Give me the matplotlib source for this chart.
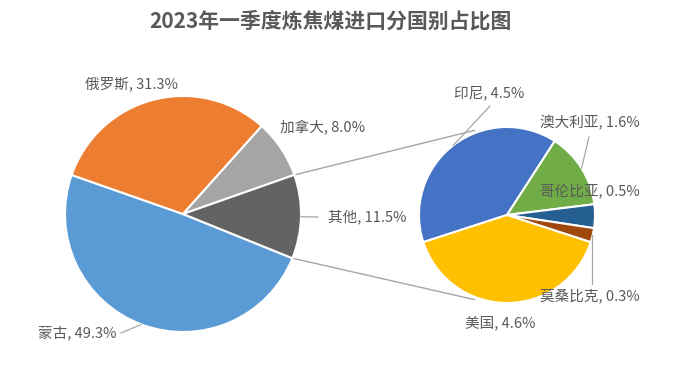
import numpy as np
import matplotlib
matplotlib.use("Agg")
from matplotlib import pyplot as plt

plt.rcParams['font.family'] = ['Noto Sans CJK SC', 'DejaVu Sans']

# data
main_labels = ['蒙古', '俄罗斯', '加拿大', '其他']
main_values = [49.3, 31.3, 8.0, 11.5]
main_colors = ['#5B9BD5', '#ED7D31', '#A5A5A5', '#636363']

sub_labels = ['印尼', '澳大利亚', '哥伦比亚', '莫桑比克', '美国']
sub_values = [4.5, 1.6, 0.5, 0.3, 4.6]
sub_colors = ['#4472C4', '#70AD47', '#255E91', '#9E480E', '#FFC000']

title = '2023年一季度炼焦煤进口分国别占比图'

W, H = 691, 383
TXT = '#595959'
LINE = '#A6A6A6'


def px(x, y):
    # pixel coords (y down) -> data coords (y up)
    return x, H - y


def edge(center, r, ang, k=1.0):
    a = np.deg2rad(ang)
    return center[0] + k * r * np.cos(a), center[1] + k * r * np.sin(a)


fig = plt.figure(figsize=(W / 100, H / 100), dpi=100)
ax = fig.add_axes([0, 0, 1, 1])

c1, r1 = px(183, 214), 118
c2, r2 = px(507, 215), 88

w1, _ = ax.pie(main_values, colors=main_colors, startangle=-22, counterclock=False,
               center=c1, radius=r1, wedgeprops=dict(edgecolor='white', linewidth=1.5))
w2, _ = ax.pie(sub_values, colors=sub_colors, startangle=198, counterclock=False,
               center=c2, radius=r2, wedgeprops=dict(edgecolor='white', linewidth=1.5))

ax.set_xlim(0, W)
ax.set_ylim(0, H)
ax.set_aspect('equal')
ax.axis('off')

# connector lines between "其他" and the second pie
other = w1[main_labels.index('其他')]
for a_main, a_sub in [(other.theta2, 111), (other.theta1, -111)]:
    p0 = edge(c1, r1, a_main)
    p1 = edge(c2, r2, a_sub, 1.03)
    ax.plot([p0[0], p1[0]], [p0[1], p1[1]], color=LINE, lw=1.0, zorder=0)

# data labels: (text position px, ha, leader end px or None)
main_pos = {
    '蒙古': ((117, 333), 'right', (121, 333)),
    '俄罗斯': ((132, 84), 'center', None),
    '加拿大': ((280, 128), 'left', None),
    '其他': ((328, 217), 'left', (318, 217)),
}
sub_pos = {
    '印尼': ((489, 93), 'center', (490, 106)),
    '澳大利亚': ((590, 123), 'center', (589, 137)),
    '哥伦比亚': ((590, 191), 'center', None),
    '莫桑比克': ((590, 296), 'center', (592, 284)),
    '美国': ((500, 323), 'center', None),
}


def put_labels(wedges, labels, values, center, r, pos):
    for w, name, v in zip(wedges, labels, values):
        (tx, ty), ha, lead = pos[name]
        ax.text(*px(tx, ty), f'{name}, {v:.1f}%', ha=ha, va='center',
                fontsize=10.5, color=TXT)
        if lead is not None:
            mid = (w.theta1 + w.theta2) / 2
            p0 = edge(center, r, mid)
            p1 = px(*lead)
            if name == '莫桑比克':
                p0 = (p1[0], p0[1])
            ax.plot([p0[0], p1[0]], [p0[1], p1[1]], color=LINE, lw=0.9)


put_labels(w1, main_labels, main_values, c1, r1, main_pos)
put_labels(w2, sub_labels, sub_values, c2, r2, sub_pos)

ax.text(*px(330, 21), title, ha='center', va='center', fontsize=15,
        fontweight='bold', color=TXT)

fig.savefig('out.png', dpi=100)
